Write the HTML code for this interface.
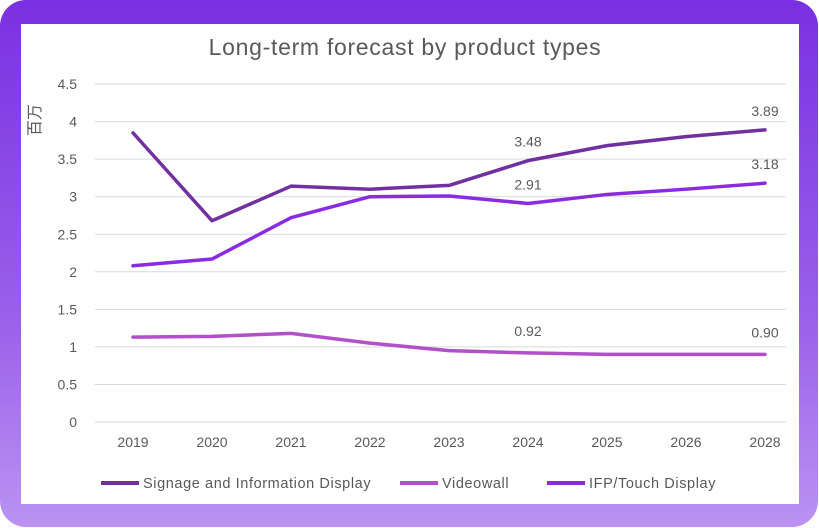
<!DOCTYPE html>
<html><head><meta charset="utf-8"><style>
html,body{margin:0;padding:0;background:#fff}
#frame{position:absolute;left:0;top:0;width:818px;height:527px;border-radius:26px;background:linear-gradient(180deg,#7a30e2 0%,#9a60ea 60%,#bb92f2 100%)}
#inner{position:absolute;left:21px;top:24px;width:778px;height:480px;background:#fff}
svg{position:absolute;left:0;top:0}
text{font-family:"Liberation Sans","Noto Sans CJK SC",sans-serif;fill:#595959}
</style></head><body>
<div id="frame"></div>
<div id="inner"></div>
<svg id="chart" width="819" height="528">
<text x="405" y="55" font-size="23" letter-spacing="0.7" text-anchor="middle">Long-term forecast by product types</text>
<text transform="translate(40,120) rotate(-90)" font-size="16" text-anchor="middle">百万</text>
</svg>
<script>
const categories=["2019","2020","2021","2022","2023","2024","2025","2026","2028"];
const signage=[3.85,2.68,3.14,3.10,3.15,3.48,3.68,3.80,3.89];
const videowall=[1.13,1.14,1.18,1.05,0.95,0.92,0.90,0.90,0.90];
const ifp=[2.08,2.17,2.72,3.00,3.01,2.91,3.03,3.10,3.18];
const yTicks=[0,0.5,1,1.5,2,2.5,3,3.5,4,4.5];
const labelIdx=[5,8];
const svg=document.getElementById('chart');
const NS='http://www.w3.org/2000/svg';
const y=v=>422-v*75.1;
const x=i=>133+i*79;
function mk(t,a){const e=document.createElementNS(NS,t);for(const k in a)e.setAttribute(k,a[k]);svg.appendChild(e);return e;}
yTicks.forEach(v=>{
 const g=mk('line',{x1:95,x2:786,y1:y(v),y2:y(v),stroke:'#d9d9d9','stroke-width':1});
 
 
 const t=mk('text',{x:77,y:y(v)+5,'font-size':14,'text-anchor':'end'});t.textContent=String(v);
 
 
});
categories.forEach((c,i)=>{
 const t=mk('text',{x:x(i),y:447,'font-size':14,'text-anchor':'middle'});t.textContent=c;
 
 
});
const series=[[signage,'#7030a0','signage-line'],[videowall,'#b150c8','videowall-line'],[ifp,'#8a2be2','ifp-line']];
series.forEach(([d,c,n])=>{
 const p=mk('path',{d:d.map((v,i)=>(i?'L':'M')+x(i)+','+y(v)).join(''),fill:'none',stroke:c,'stroke-width':3.5,'stroke-linejoin':'round','stroke-linecap':'round'});
 
 
});
[[signage,-14],[ifp,-14],[videowall,-17]].forEach(([d,off])=>{
 labelIdx.forEach(i=>{
  const t=mk('text',{x:x(i),y:y(d[i])+off,'font-size':14,'text-anchor':'middle'});t.textContent=d[i].toFixed(2);
  
  
 });
});
const legend=[['Signage and Information Display','#7030a0',101],['Videowall','#b150c8',400],['IFP/Touch Display','#8a2be2',547]];
legend.forEach(([n,c,lx])=>{
 const l=mk('line',{x1:lx,x2:lx+38,y1:483,y2:483,stroke:c,'stroke-width':4});
 
 
 const t=mk('text',{x:lx+42,y:488,'font-size':14.5,'letter-spacing':0.6});t.textContent=n;
 
 
});
</script>
</body></html>
